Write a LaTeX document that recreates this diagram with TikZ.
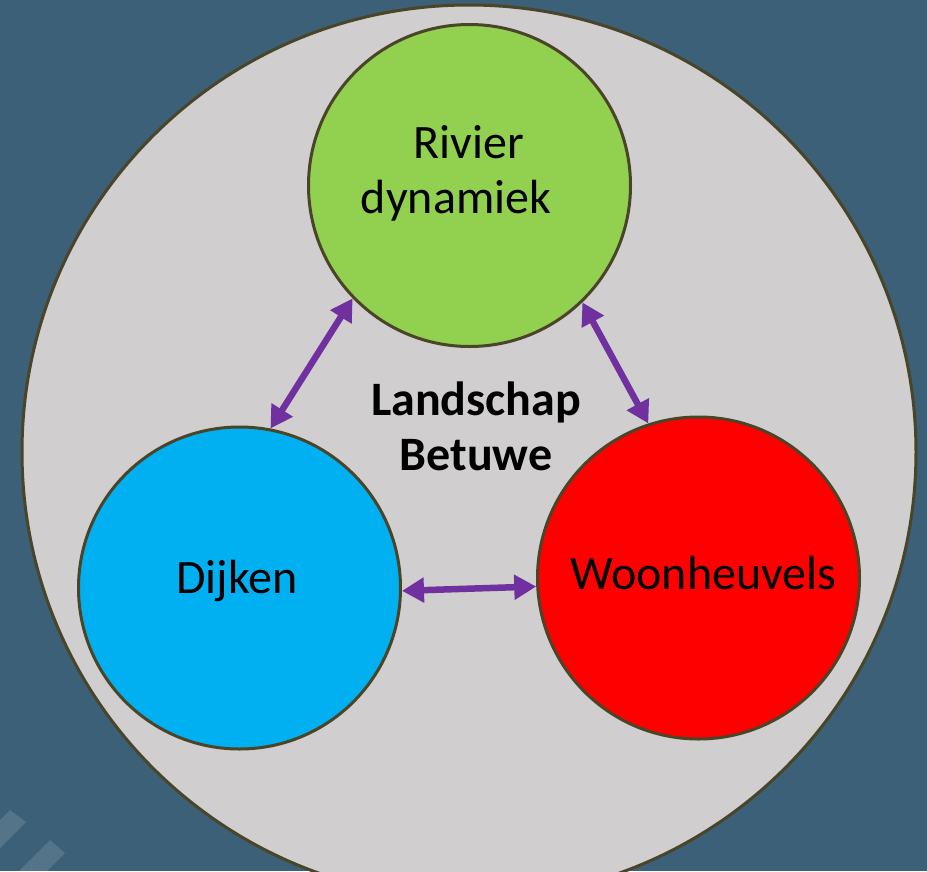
\documentclass[tikz,border=0pt]{standalone}
\usepackage{fontspec}
\setmainfont{Carlito}
\usetikzlibrary{arrows.meta}
\definecolor{bgblue}{HTML}{3B6078}
\definecolor{outline}{HTML}{4A4528}
\definecolor{biggray}{HTML}{D0CECE}
\definecolor{cgreen}{HTML}{92D050}
\definecolor{cblue}{HTML}{00B0F0}
\definecolor{cred}{HTML}{FF0000}
\definecolor{arrowpurple}{HTML}{7030A0}
\tikzset{
  ring/.style={circle, draw=outline, line width=3pt, inner sep=0pt, minimum size=322pt},
  lbl/.style={font=\fontsize{48}{55}\selectfont, align=center, inner sep=0pt},
  link/.style={draw=arrowpurple, line width=6.5pt, {Triangle[length=22pt,width=24pt]}-{Triangle[length=22pt,width=24pt]}}
}
\begin{document}
\begin{tikzpicture}[x=1pt,y=-1pt]
  \useasboundingbox (0,0) rectangle (927,871);
  \clip (0,0) rectangle (927,871);
  \fill[bgblue] (0,0) rectangle (927,871);
  \fill[white, opacity=0.13] (10,810) -- (26,822) -- (-30,878) -- (-46,866) -- cycle;
  \fill[white, opacity=0.13] (50,840) -- (65,853) -- (30,888) -- (15,875) -- cycle;
  \node[circle, draw=outline, fill=biggray, line width=3pt, inner sep=0pt, minimum size=894pt] (big) at (469,452) {};
  \node[ring, fill=cgreen] (g) at (469.5,185.5) {};
  \node[ring, fill=cblue] (b) at (239.5,588) {};
  \node[ring, fill=cred] (r) at (698.5,578) {};
  \node[lbl] (gt) at (469,173) {Rivier\\dynamiek\hspace*{26pt}};
  \node[lbl] (bt) at (237,581) {Dijken};
  \node[lbl] (rt) at (703.5,573) {Woonheuvels};
  \node[lbl, font=\fontsize{48}{55}\selectfont\bfseries] (ct) at (476,426) {Landschap\\Betuwe};
  \draw[link] (g.224) -- (b.79);
  \draw[link] (g.314) -- (r.108.5);
  \draw[link] (b.-1.4) -- (r.183.6);
\end{tikzpicture}
\end{document}
